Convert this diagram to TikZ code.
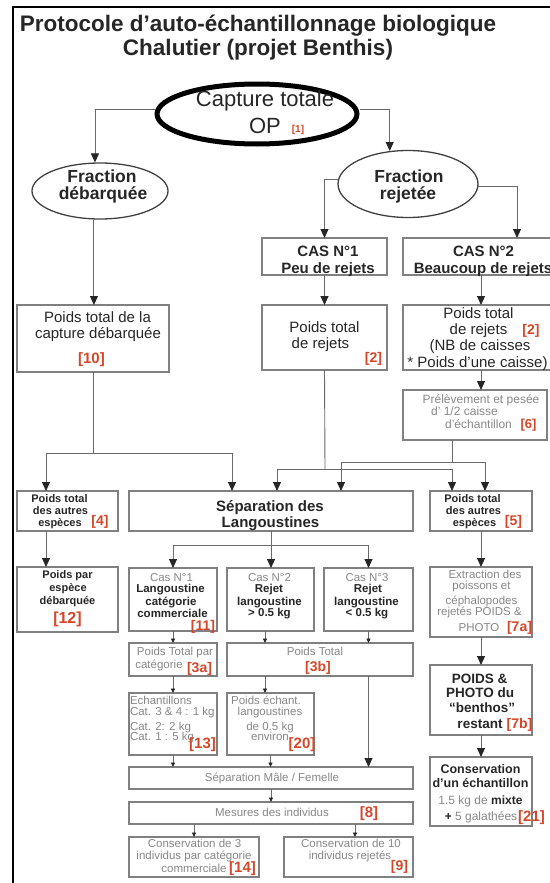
\documentclass[tikz,border=0pt]{standalone}
\usepackage{fontspec}
\setmainfont{Liberation Sans}
\usetikzlibrary{arrows.meta,shapes.geometric}
\definecolor{redl}{RGB}{214,70,40}
\definecolor{gtxt}{RGB}{135,135,135}
\definecolor{bgray}{RGB}{128,128,128}
\definecolor{lgray}{RGB}{105,105,105}
\newcounter{tlc}
\newcommand\TL[4][]{\stepcounter{tlc}\node[txt,#1] (t\arabic{tlc}) at (#2,#3) {#4};}
\newcommand\BX[6][]{\node[box,#1,minimum width={#4-#2},minimum height={#5-#3}] (#6) at ({(#2+#4)/2},{(#3+#5)/2}) {};}
\newcommand\RL[1]{{\color{redl}\bfseries#1}}
\newcommand\FS[1]{\fontsize{#1}{#1}\selectfont}
\begin{document}
\begin{tikzpicture}[x=1pt,y=-1pt,
  box/.style={draw=bgray,line width=1.1pt,inner sep=0pt,outer sep=0pt},
  txt/.style={anchor=base,inner sep=0pt,outer sep=0pt,text=black!85},
  gt/.style={text=gtxt},
  ln/.style={draw=lgray,line width=0.9pt},
  arr/.style={ln,-{Triangle[width=8pt,length=9pt,color=black!85]}},
  sarr/.style={ln,-{Triangle[width=4pt,length=4.5pt,color=black!85]}},
  bA/.style={font=\bfseries\FS{15}},
  rA/.style={font=\FS{15}},
  bS/.style={font=\bfseries\FS{11.5}},
  gS/.style={gt,font=\FS{11.5}}]
\useasboundingbox (0,0) rectangle (549,883);
% frame
\draw[line width=2.5pt,black] (13,900) -- (13,7) -- (560,7);
% title
\TL[font=\bfseries\FS{22.5}]{258}{32}{Protocole d’auto-échantillonnage biologique}
\TL[font=\bfseries\FS{22.5}]{258}{56}{Chalutier (projet Benthis)}
% ellipses
\node[ellipse,draw=black,line width=5pt,minimum width=200pt,minimum height=60pt,inner sep=0pt] (cap) at (257,114) {};
\node[ellipse,draw=black!75,line width=1.3pt,minimum width=136pt,minimum height=56pt,inner sep=0pt] (fdeb) at (100,191) {};
\node[ellipse,draw=black!75,line width=1.3pt,minimum width=140pt,minimum height=67pt,inner sep=0pt] (frej) at (408,184) {};
% boxes
\BX{262}{238}{387}{275}{cas1}
\BX{403}{238}{559}{275}{cas2}
\BX{262}{305}{387}{370}{pr1}
\BX{403}{305}{559}{370}{pr2}
\BX{403}{390}{547}{440}{prel}
\BX{17}{305}{169}{372}{pcap}
\BX{17}{491}{118}{531}{p4}
\BX{129}{491}{413}{531}{sep}
\BX{430}{491}{532}{531}{p5}
\BX{17}{567}{118}{632}{p12}
\BX{129}{568}{217}{631}{c1}
\BX{227}{568}{314}{631}{c2}
\BX{324}{568}{413}{631}{c3}
\BX{129}{643}{217}{676}{p3a}
\BX{227}{643}{413}{676}{p3b}
\BX{129}{693}{217}{755}{ech}
\BX{227}{693}{314}{755}{p20}
\BX{129}{767}{413}{789}{smf}
\BX{129}{802}{413}{824}{mes}
\BX{129}{837}{259}{877}{c14}
\BX{284}{837}{413}{877}{c9}
\BX{430}{567}{532}{637}{ext}
\BX{430}{665}{532}{735}{pp}
\BX{430}{757}{532}{826}{cons}
% junction coordinates
\coordinate (j1) at (93,453);
\coordinate (j2) at (325,469);
\coordinate (j3) at (452,462);
\coordinate (j4) at (271,545);
\coordinate (xa) at (265,0);
\coordinate (xb) at (355,0);
\coordinate (xc) at (46,0);
\coordinate (xd) at (232,0);
\coordinate (xe) at (277,0);
\coordinate (xf) at (452,0);
\coordinate (xg) at (341,0);
\coordinate (xh) at (485,0);
\coordinate (yc) at (0,109);
% connectors
\draw[arr] (cap.west |- yc) -| (fdeb.100);
\draw[arr] (cap.east |- yc) -| (frej.119);
\draw[arr] (frej.176) -| (cas1.north);
\draw[arr] (frej.358) -| ([xshift=36pt]cas2.north);
\draw[arr] (cas1.south) -- (pr1.north);
\draw[arr] (cas2.south) -- (pr2.north);
\draw[arr] (pr2.south) -- (pr2.south |- prel.north);
\draw[arr] (fdeb.258) -- (fdeb.258 |- pcap.north);
\draw[ln] (pcap.south) -- (j1);
\draw[arr] (j1) -| (xc |- p4.north);
\draw[arr] (j1) -| (xd |- sep.north);
\draw[ln] (pr1.south) -- (j2);
\draw[arr] (j2) -| (xe |- sep.north);
\draw[arr] (j2) -| (xf |- p5.north);
\draw[ln] (xf |- prel.south) -- (j3);
\draw[arr] (j3) -| (xg |- sep.north);
\draw[arr] (j3) -| (xh |- p5.north);
\draw[arr] (xc |- p4.south) -- (xc |- p12.north);
\draw[ln] (sep.south) -- (j4);
\draw[arr] (j4) -| (c1.north);
\draw[arr] (j4) -- (j4 |- c2.north);
\draw[arr] (j4) -| (c3.north);
\draw[arr] (p5.south) -- (ext.north);
\draw[arr] (ext.south) -- (pp.north);
\draw[arr] (pp.south) -- (cons.north);
\draw[sarr] (c1.south) -- (p3a.north);
\draw[sarr] (xa |- c2.south) -- (xa |- p3b.north);
\draw[sarr] (c3.south) -- (c3.south |- p3b.north);
\draw[sarr] (p3a.south) -- (ech.north);
\draw[sarr] (xa |- p3b.south) -- (xa |- p20.north);
\draw[arr] (c3.south |- p3b.south) -- (c3.south |- smf.north);
\draw[sarr] (ech.south) -- (ech.south |- smf.north);
\draw[sarr] (p20.south) -- (p20.south |- smf.north);
\draw[sarr] (smf.south) -- (mes.north);
\draw[sarr] (c14.north |- mes.south) -- (c14.north);
\draw[sarr] (xb |- mes.south) -- (xb |- c9.north);
% texts
\TL[font=\FS{22}]{265}{106}{Capture totale}
\TL[font=\FS{22}]{265}{133}{OP}
\TL[font=\FS{10}]{298}{132}{\RL{[1]}}
\TL[font=\bfseries\FS{17.5}]{102}{182}{Fraction}
\TL[font=\bfseries\FS{17.5}]{103}{199}{débarquée}
\TL[font=\bfseries\FS{17.5}]{409}{182}{Fraction}
\TL[font=\bfseries\FS{17.5}]{408}{199}{rejetée}
\TL[bA]{328}{256}{CAS N°1}
\TL[bA]{328}{273}{Peu de rejets}
\TL[bA]{483.5}{256}{CAS N°2}
\TL[bA]{483}{273}{Beaucoup de rejets}
\TL[rA]{324.5}{332}{Poids total}
\TL[rA]{320.5}{348}{de rejets}
\TL[font=\FS{14}]{373.5}{362}{\RL{[2]}}
\TL[rA]{478.5}{318}{Poids total}
\TL[rA]{478.5}{334}{de rejets}
\TL[font=\FS{14}]{531}{334}{\RL{[2]}}
\TL[rA]{480}{350}{(NB de caisses}
\TL[rA]{477.5}{367}{* Poids d’une caisse)}
\TL[gt,font=\FS{12}]{481}{403}{Prélèvement et pesée}
\TL[gt,font=\FS{12}]{464.5}{415}{d’ 1/2 caisse}
\TL[gt,font=\FS{12}]{478.5}{428}{d’échantillon}
\TL[font=\FS{13}]{528.5}{428}{\RL{[6]}}
\TL[rA]{97.5}{322}{Poids total de la}
\TL[rA]{98}{338}{capture débarquée}
\TL[font=\FS{15}]{91.5}{363}{\RL{[10]}}
\TL[font=\bfseries\FS{11}]{59.5}{502}{Poids total}
\TL[font=\bfseries\FS{11}]{60.5}{514}{des autres}
\TL[font=\bfseries\FS{11}]{60}{526}{espèces}
\TL[font=\FS{14}]{100}{525}{\RL{[4]}}
\TL[bA]{270}{511}{Séparation des}
\TL[bA]{270.5}{527}{Langoustines}
\TL[font=\bfseries\FS{11}]{472.5}{502}{Poids total}
\TL[font=\bfseries\FS{11}]{473.5}{514}{des autres}
\TL[font=\bfseries\FS{11}]{474.5}{526}{espèces}
\TL[font=\FS{14}]{513.5}{525}{\RL{[5]}}
\TL[font=\bfseries\FS{11}]{67.5}{578}{Poids par}
\TL[font=\bfseries\FS{11}]{68}{591}{espèce}
\TL[font=\bfseries\FS{11}]{67.5}{604}{débarquée}
\TL[font=\FS{16}]{67.5}{623}{\RL{[12]}}
\TL[gS]{171.5}{581}{Cas N°1}
\TL[bS]{170.5}{592}{Langoustine}
\TL[bS]{171}{605}{catégorie}
\TL[bS]{172.5}{617}{commerciale}
\TL[font=\FS{14}]{203}{630}{\RL{[11]}}
\TL[gS]{269.5}{581}{Cas N°2}
\TL[bS]{269}{592}{Rejet}
\TL[bS]{269.5}{605}{langoustine}
\TL[bS]{269.5}{616}{> 0.5 kg}
\TL[gS]{367}{581}{Cas N°3}
\TL[bS]{368}{592}{Rejet}
\TL[bS]{366.5}{605}{langoustine}
\TL[bS]{367}{616}{< 0.5 kg}
\TL[gS]{175}{655}{Poids Total par}
\TL[gS]{159}{668}{catégorie}
\TL[font=\FS{14}]{199.5}{672}{\RL{[3a]}}
\TL[gS]{315}{655}{Poids Total}
\TL[font=\FS{14}]{318}{671}{\RL{[3b]}}
\TL[gS,anchor=base west]{130}{704}{Echantillons}
\TL[gS,anchor=base west]{130}{715}{Cat. 3 \& 4 : 1 kg}
\TL[gS,anchor=base west]{130}{730}{Cat. 2: 2 kg}
\TL[gS,anchor=base west]{130}{740}{Cat. 1 : 5 kg}
\TL[font=\FS{15}]{202.5}{748}{\RL{[13]}}
\TL[gS]{266}{704}{Poids échant.}
\TL[gS]{270}{715}{langoustines}
\TL[gS]{270}{730}{de 0.5 kg}
\TL[gS]{270}{740}{environ}
\TL[font=\FS{15}]{302}{748}{\RL{[20]}}
\TL[gS]{272}{781}{Séparation Mâle / Femelle}
\TL[gS]{272}{816}{Mesures des individus}
\TL[font=\FS{15}]{369}{817}{\RL{[8]}}
\TL[gS]{194.5}{847}{Conservation de 3}
\TL[gS]{194}{859}{individus par catégorie}
\TL[gS]{194}{872}{commerciale}
\TL[font=\FS{15}]{242.5}{872}{\RL{[14]}}
\TL[gS]{351}{847}{Conservation de 10}
\TL[gS]{350}{859}{individus rejetés}
\TL[font=\FS{14}]{399.5}{870}{\RL{[9]}}
\TL[gS]{485}{578}{Extraction des}
\TL[gS]{481.5}{589}{poissons et}
\TL[gS]{481.5}{604}{céphalopodes}
\TL[gS]{479.5}{615}{rejetés POIDS \&}
\TL[gS]{479}{631}{PHOTO}
\TL[font=\FS{14}]{519.5}{631}{\RL{[7a]}}
\TL[font=\bfseries\FS{13.5}]{479.5}{683}{POIDS \&}
\TL[font=\bfseries\FS{13.5}]{480}{697}{PHOTO du}
\TL[font=\bfseries\FS{13.5}]{482}{712}{“benthos”}
\TL[font=\bfseries\FS{13.5}]{480}{728}{restant}
\TL[font=\FS{14}]{519.5}{728}{\RL{[7b]}}
\TL[font=\bfseries\FS{12.5}]{480.5}{773}{Conservation}
\TL[font=\bfseries\FS{12.5}]{480.5}{787}{d’un échantillon}
\TL[gt,font=\FS{12}]{480.5}{804}{1.5 kg de {\color{black!85}\bfseries mixte}}
\TL[gt,font=\FS{12}]{481}{820}{{\color{black!85}\bfseries +} 5 galathées}
\TL[font=\FS{15}]{531.5}{821}{\RL{[21]}}
\end{tikzpicture}
\end{document}
